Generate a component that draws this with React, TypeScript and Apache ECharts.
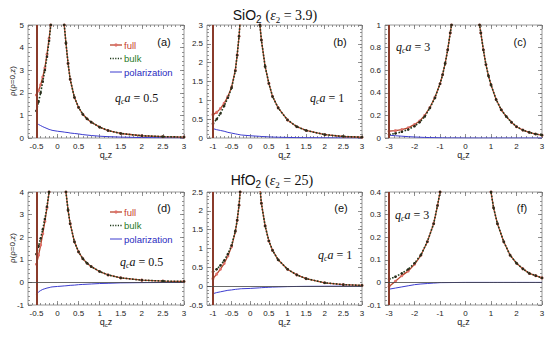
import React, { useEffect, useRef } from "react";
import * as echarts from "echarts";

// ---------- data ----------
// panel (a)/(d): q_c a = 0.5 ; (b)/(e): q_c a = 1 ; (c)/(f): q_c a = 3
const xA = [-0.5, -0.45, -0.4, -0.35, -0.3, -0.25, -0.2, -0.16, -0.13, 0, 0.13, 0.16, 0.2, 0.25, 0.3, 0.4, 0.5, 0.6, 0.7, 0.8, 1.0, 1.2, 1.5, 2.0, 2.5, 3.0];
const aFull = [1.9, 2.1, 2.35, 2.7, 3.1, 3.7, 4.4, 5.0, 6.0, null, 7.0, 5.0, 4.2, 3.3, 2.6, 1.8, 1.35, 1.05, 0.85, 0.7, 0.48, 0.33, 0.2, 0.1, 0.06, 0.04];
const aBulk = [1.2, 1.6, 2.0, 2.5, 3.0, 3.6, 4.3, 5.0, 6.0, null, 7.0, 5.0, 4.2, 3.3, 2.6, 1.8, 1.35, 1.05, 0.85, 0.7, 0.48, 0.33, 0.2, 0.1, 0.06, 0.04];
const aPol = [0.65, 0.6, 0.55, 0.5, 0.46, 0.42, 0.38, 0.36, 0.34, 0.3, 0.27, 0.26, 0.25, 0.24, 0.22, 0.2, 0.18, 0.15, 0.13, 0.11, 0.08, 0.06, 0.04, 0.02, 0.01, 0.005];

const xB = [-1, -0.9, -0.8, -0.7, -0.6, -0.5, -0.4, -0.35, -0.3, -0.27, -0.24, 0, 0.24, 0.26, 0.3, 0.4, 0.5, 0.6, 0.75, 1.0, 1.25, 1.5, 2.0, 2.5, 3.0];
const bFull = [0.62, 0.68, 0.78, 0.92, 1.1, 1.35, 1.8, 2.2, 2.7, 3.1, 3.6, null, 3.4, 3.0, 2.6, 1.9, 1.45, 1.1, 0.8, 0.48, 0.3, 0.2, 0.09, 0.04, 0.02];
const bBulk = [0.38, 0.5, 0.65, 0.85, 1.07, 1.33, 1.78, 2.2, 2.7, 3.1, 3.6, null, 3.4, 3.0, 2.6, 1.9, 1.45, 1.1, 0.8, 0.48, 0.3, 0.2, 0.09, 0.04, 0.02];
const bPol = [0.25, 0.22, 0.2, 0.18, 0.15, 0.13, 0.11, 0.1, 0.09, 0.085, 0.08, 0.06, 0.045, 0.044, 0.04, 0.035, 0.03, 0.025, 0.02, 0.015, 0.01, 0.008, 0.005, 0.002, 0];

const xC = [-3, -2.75, -2.5, -2.25, -2, -1.8, -1.6, -1.4, -1.2, -1, -0.9, -0.8, -0.7, -0.6, -0.55, -0.5, 0, 0.5, 0.55, 0.6, 0.7, 0.8, 0.9, 1.0, 1.2, 1.4, 1.6, 1.8, 2.0, 2.25, 2.5, 2.75, 3.0];
const cFull = [0.06, 0.065, 0.075, 0.09, 0.12, 0.15, 0.2, 0.27, 0.36, 0.48, 0.56, 0.66, 0.78, 0.93, 1.0, 1.1, null, 1.1, 1.0, 0.93, 0.78, 0.65, 0.55, 0.47, 0.34, 0.25, 0.19, 0.14, 0.1, 0.07, 0.05, 0.035, 0.025];
const cBulk = [0.03, 0.04, 0.055, 0.075, 0.105, 0.14, 0.19, 0.265, 0.355, 0.48, 0.56, 0.66, 0.78, 0.93, 1.0, 1.1, null, 1.1, 1.0, 0.93, 0.78, 0.65, 0.55, 0.47, 0.34, 0.25, 0.19, 0.14, 0.1, 0.07, 0.05, 0.035, 0.025];
const cPol = [0.025, 0.02, 0.016, 0.012, 0.009, 0.007, 0.005, 0.004, 0.003, 0.002, 0.002, 0.001, 0.001, 0.001, 0.001, 0.001, 0, 0, 0, 0, 0, 0, 0, 0, 0, 0, 0, 0, 0, 0, 0, 0, 0];

const dFull = [0.8, 1.2, 1.65, 2.15, 2.7, 3.3, 4.0, 4.7, 5.6, null, 6.0, 4.8, 4.0, 3.2, 2.6, 1.8, 1.35, 1.05, 0.85, 0.7, 0.48, 0.33, 0.2, 0.1, 0.06, 0.04];
const dBulk = [1.25, 1.6, 1.95, 2.35, 2.8, 3.35, 4.0, 4.7, 5.6, null, 6.0, 4.8, 4.0, 3.2, 2.6, 1.8, 1.35, 1.05, 0.85, 0.7, 0.48, 0.33, 0.2, 0.1, 0.06, 0.04];
const dPol = [-0.52, -0.42, -0.36, -0.31, -0.28, -0.25, -0.23, -0.21, -0.2, -0.18, -0.16, -0.155, -0.15, -0.14, -0.13, -0.12, -0.1, -0.09, -0.08, -0.07, -0.05, -0.04, -0.02, -0.01, -0.005, 0];

const eFull = [0.2, 0.32, 0.45, 0.6, 0.8, 1.05, 1.45, 1.75, 2.15, 2.5, 2.9, null, 2.9, 2.6, 2.2, 1.6, 1.2, 0.95, 0.7, 0.45, 0.3, 0.2, 0.09, 0.04, 0.02];
const eBulk = [0.38, 0.45, 0.55, 0.68, 0.85, 1.08, 1.46, 1.75, 2.15, 2.5, 2.9, null, 2.9, 2.6, 2.2, 1.6, 1.2, 0.95, 0.7, 0.45, 0.3, 0.2, 0.09, 0.04, 0.02];
const ePol = [-0.2, -0.17, -0.15, -0.13, -0.11, -0.1, -0.085, -0.08, -0.075, -0.07, -0.068, -0.06, -0.045, -0.044, -0.04, -0.035, -0.03, -0.025, -0.02, -0.012, -0.008, -0.005, -0.002, 0, 0];

const xF = [-3, -2.75, -2.5, -2.25, -2, -1.75, -1.5, -1.25, -1.1, -1.0, -0.95, 0, 0.95, 1.0, 1.1, 1.25, 1.5, 1.75, 2.0, 2.25, 2.5, 2.75, 3.0];
const fFull = [-0.018, 0.005, 0.03, 0.05, 0.08, 0.12, 0.18, 0.26, 0.34, 0.4, 0.44, null, 0.44, 0.4, 0.33, 0.26, 0.18, 0.12, 0.085, 0.06, 0.04, 0.03, 0.02];
const fBulk = [0.015, 0.025, 0.04, 0.058, 0.085, 0.122, 0.18, 0.26, 0.34, 0.4, 0.44, null, 0.44, 0.4, 0.33, 0.26, 0.18, 0.12, 0.085, 0.06, 0.04, 0.03, 0.02];
const fPol = [-0.03, -0.025, -0.02, -0.015, -0.01, -0.007, -0.005, -0.003, -0.002, -0.001, -0.001, 0, 0, 0, 0, 0, 0, 0, 0, 0, 0, 0, 0];

// tick labels
const xTicksA = [-0.5, 0, 0.5, 1, 1.5, 2, 2.5, 3];
const xTicksB = [-1, -0.5, 0, 0.5, 1, 1.5, 2, 2.5, 3];
const xTicksC = [-3, -2, -1, 0, 1, 2, 3];
const yTicksA = [0, 1, 2, 3, 4, 5];
const yTicksB = [0, 0.5, 1, 1.5, 2, 2.5, 3];
const yTicksC = [0, 0.2, 0.4, 0.6, 0.8, 1];
const yTicksD = [-1, 0, 1, 2, 3, 4];
const yTicksE = [-0.5, 0, 0.5, 1, 1.5, 2, 2.5];
const yTicksF = [-0.1, 0, 0.1, 0.2, 0.3, 0.4];

const seriesNames = ["full", "bulk", "polarization"];
const panelLabels = ["(a)", "(b)", "(c)", "(d)", "(e)", "(f)"];
const qaValues = ["0.5", "1", "3", "0.5", "1", "3"];
const titleTop = { mat: "SiO", eps: "3.9" };
const titleBottom = { mat: "HfO", eps: "25" };

// ---------- styles / layout ----------
const C_FULL = "#b8452c";
const C_FULL_MK = "#e0706a";
const C_BULK = "#1e3a1a";
const C_POL = "#3c3ccf";
const C_WALL = "#8a3b2b";

const panels = [
  { x: xA, full: aFull, bulk: aBulk, pol: aPol, xMin: -0.7, xMax: 3, yMin: 0, yMax: 5, xT: xTicksA, yT: yTicksA, wall: -0.5, zero: false, g: [28, 25, 156, 113], lab: [164, 42], qa: [115, 98], leg: 45 },
  { x: xB, full: bFull, bulk: bBulk, pol: bPol, xMin: -1.16, xMax: 3, yMin: 0, yMax: 3, xT: xTicksB, yT: yTicksB, wall: -1, zero: false, g: [207, 25, 155, 113], lab: [340, 42], qa: [310, 98], leg: 0 },
  { x: xC, full: cFull, bulk: cBulk, pol: cPol, xMin: -3.16, xMax: 3, yMin: 0, yMax: 1, xT: xTicksC, yT: yTicksC, wall: -3, zero: false, g: [385, 25, 157, 113], lab: [520, 42], qa: [396, 47], leg: 0 },
  { x: xA, full: dFull, bulk: dBulk, pol: dPol, xMin: -0.7, xMax: 3, yMin: -1, yMax: 4, xT: xTicksA, yT: yTicksD, wall: -0.5, zero: true, g: [28, 192, 156, 113], lab: [164, 208], qa: [120, 262], leg: 212 },
  { x: xB, full: eFull, bulk: eBulk, pol: ePol, xMin: -1.16, xMax: 3, yMin: -0.5, yMax: 2.5, xT: xTicksB, yT: yTicksE, wall: -1, zero: true, g: [207, 192, 155, 113], lab: [341, 208], qa: [318, 255], leg: 0 },
  { x: xF, full: fFull, bulk: fBulk, pol: fPol, xMin: -3.16, xMax: 3, yMin: -0.1, yMax: 0.4, xT: xTicksC, yT: yTicksF, wall: -3, zero: true, g: [385, 192, 157, 113], lab: [522, 208], qa: [395, 215], leg: 0 },
];

const SANS = "'Liberation Sans', Arial, Helvetica, sans-serif";
const SERIF = "'Liberation Serif', 'Times New Roman', serif";
const fmt = (v: number) => String(Math.round(v * 1000) / 1000);

function minors(ticks: number[], lo: number, hi: number) {
  const step = (ticks[1] - ticks[0]) / 5;
  const out: number[] = [];
  for (let k = -10; k < (ticks.length + 2) * 5; k++) {
    const v = ticks[0] + k * step;
    if (v >= lo - 1e-9 && v <= hi + 1e-9) out.push(Math.round(v * 10000) / 10000);
  }
  return out;
}

function legendGraphics(top: number) {
  const x1 = 110, x2 = 122, tx = 124, gap = 13.5;
  const out: any[] = [];
  const colors = ["#c8402a", "#2a7a2a", "#2a2ac0"];
  seriesNames.forEach((name, k) => {
    const y = top + k * gap;
    if (k === 0) {
      out.push({ type: "line", z: 50, shape: { x1, y1: y, x2, y2: y }, style: { stroke: C_FULL, lineWidth: 1.3 } });
      out.push({ type: "circle", z: 51, shape: { cx: (x1 + x2) / 2, cy: y, r: 1.6 }, style: { fill: C_FULL_MK } });
    } else if (k === 1) {
      out.push({ type: "line", z: 50, shape: { x1, y1: y, x2, y2: y }, style: { stroke: C_BULK, lineWidth: 1.4, lineDash: [1.2, 1.4] } });
    } else {
      out.push({ type: "line", z: 50, shape: { x1, y1: y, x2, y2: y }, style: { stroke: C_POL, lineWidth: 1 } });
    }
    out.push({ type: "text", x: tx, y, z: 50, style: { text: name, fontFamily: SANS, fontSize: 9.5, fill: colors[k], align: "left", verticalAlign: "middle" } });
  });
  return out;
}

function buildOption() {
  const grid: any[] = [];
  const xAxis: any[] = [];
  const yAxis: any[] = [];
  const series: any[] = [];
  const graphic: any[] = [];

  panels.forEach((p, i) => {
    grid.push({ left: p.g[0], top: p.g[1], width: p.g[2], height: p.g[3], show: true, borderColor: "#9a9a9a", borderWidth: 1, backgroundColor: "#fff" });
    const xm = minors(p.xT, p.xMin, p.xMax);
    const ym = minors(p.yT, p.yMin, p.yMax);
    const mk = (dimMin: number, dimMax: number) => (pos: string, ticks: number[], len: number, labels: boolean) => ({
      type: "value", gridIndex: i, min: dimMin, max: dimMax, position: pos,
      axisLine: { show: false, onZero: false },
      splitLine: { show: false },
      axisTick: { show: true, inside: true, length: len, customValues: ticks, lineStyle: { color: "#777", width: 0.8 } },
      axisLabel: labels
        ? { show: true, customValues: ticks, formatter: (v: number) => fmt(v), fontSize: 8, fontFamily: SANS, color: "#222", margin: 4 }
        : { show: false },
    });
    const mkX = mk(p.xMin, p.xMax);
    const mkY = mk(p.yMin, p.yMax);
    xAxis.push(mkX("bottom", p.xT, 4, true), mkX("top", p.xT, 4, false), mkX("bottom", xm, 2, false), mkX("top", xm, 2, false));
    yAxis.push(mkY("left", p.yT, 4, true), mkY("right", p.yT, 4, false), mkY("left", ym, 2, false), mkY("right", ym, 2, false));

    const xi = i * 4;
    const pair = (ys: (number | null)[]) => p.x.map((xv, k) => [xv, ys[k] == null ? NaN : ys[k]]);
    const mlData: any[] = [{ xAxis: p.wall, lineStyle: { color: C_WALL, width: 2, type: "solid" } }];
    if (p.zero) mlData.push({ yAxis: 0, lineStyle: { color: "#444", width: 0.8, type: "solid" } });
    series.push({
      type: "line", name: seriesNames[0], xAxisIndex: xi, yAxisIndex: xi, data: pair(p.full),
      connectNulls: false, clip: true, symbol: "circle", symbolSize: 3, showSymbol: true,
      lineStyle: { color: C_FULL, width: 1.3 }, itemStyle: { color: C_FULL_MK }, z: 3,
      markLine: { silent: true, symbol: ["none", "none"], label: { show: false }, data: mlData, animation: false },
    });
    series.push({
      type: "line", name: seriesNames[1], xAxisIndex: xi, yAxisIndex: xi, data: pair(p.bulk),
      connectNulls: false, clip: true, symbol: "circle", symbolSize: 2.6, showSymbol: true,
      lineStyle: { color: C_BULK, width: 1.6, type: "dotted" }, itemStyle: { color: "#2a2a1a" }, z: 4,
    });
    series.push({
      type: "line", name: seriesNames[2], xAxisIndex: xi, yAxisIndex: xi, data: pair(p.pol),
      clip: true, symbol: "none", lineStyle: { color: C_POL, width: 1 }, itemStyle: { color: C_POL }, z: 2,
    });

    graphic.push({ type: "text", x: p.lab[0], y: p.lab[1], z: 50, style: { text: panelLabels[i], fontFamily: SANS, fontSize: 11, fill: "#111", align: "center", verticalAlign: "middle" } });
    graphic.push({
      type: "text", x: p.qa[0], y: p.qa[1], z: 50,
      style: {
        text: `{i|q}{s|c}{i|a}{n| = ${qaValues[i]}}`, align: "left", verticalAlign: "middle", fill: "#111",
        rich: {
          i: { fontFamily: SERIF, fontStyle: "italic", fontSize: 12, lineHeight: 14, fill: "#111" },
          s: { fontFamily: SERIF, fontStyle: "italic", fontSize: 8, lineHeight: 8, verticalAlign: "bottom", fill: "#111" },
          n: { fontFamily: SERIF, fontSize: 12, lineHeight: 14, fill: "#111" },
        },
      },
    });
    graphic.push({
      type: "text", x: p.g[0] + p.g[2] / 2, y: p.g[1] + p.g[3] + 17, z: 50,
      style: {
        text: "{n|q}{s|c}{n|z}", align: "center", verticalAlign: "middle", fill: "#222",
        rich: {
          n: { fontFamily: SANS, fontSize: 9, lineHeight: 11, fill: "#222" },
          s: { fontFamily: SANS, fontSize: 6, lineHeight: 6, verticalAlign: "bottom", fill: "#222" },
        },
      },
    });
    if (p.leg) graphic.push(...legendGraphics(p.leg));
  });

  [81, 248].forEach((yc) => {
    graphic.push({ type: "text", x: 12, y: yc, rotation: Math.PI / 2, z: 50, style: { text: "ρ(ρ=0,z)", fontFamily: SANS, fontSize: 8, fill: "#222", align: "center", verticalAlign: "middle" } });
  });

  const titleText = (t: { mat: string; eps: string }) => `{a|${t.mat}}{b|2}{a| }{p|(}{e|ε}{c|2}{p| = ${t.eps})}`;
  const titleRich = {
    a: { fontFamily: SANS, fontSize: 14, lineHeight: 18, fill: "#111" },
    b: { fontFamily: SANS, fontSize: 10, lineHeight: 10, verticalAlign: "bottom", fill: "#111" },
    p: { fontFamily: SERIF, fontSize: 14, lineHeight: 18, fill: "#111" },
    e: { fontFamily: SERIF, fontStyle: "italic", fontSize: 14, lineHeight: 18, fill: "#111" },
    c: { fontFamily: SERIF, fontSize: 9, lineHeight: 9, verticalAlign: "bottom", fill: "#111" },
  };
  graphic.push({ type: "text", x: 275, y: 15, z: 50, style: { text: titleText(titleTop), rich: titleRich, align: "center", verticalAlign: "middle" } });
  graphic.push({ type: "text", x: 272, y: 180, z: 50, style: { text: titleText(titleBottom), rich: titleRich, align: "center", verticalAlign: "middle" } });

  return {
    animation: false,
    backgroundColor: "#fff",
    grid, xAxis, yAxis, series, graphic,
  };
}

export default function App() {
  const ref = useRef<HTMLDivElement>(null);
  useEffect(() => {
    if (!ref.current) return;
    const chart = echarts.init(ref.current, undefined, { renderer: "svg" });
    chart.setOption(buildOption() as any);
    return () => chart.dispose();
  }, []);
  return <div ref={ref} style={{ position: "fixed", left: 0, top: 0, width: 550, height: 339, background: "#fff" }} />;
}
